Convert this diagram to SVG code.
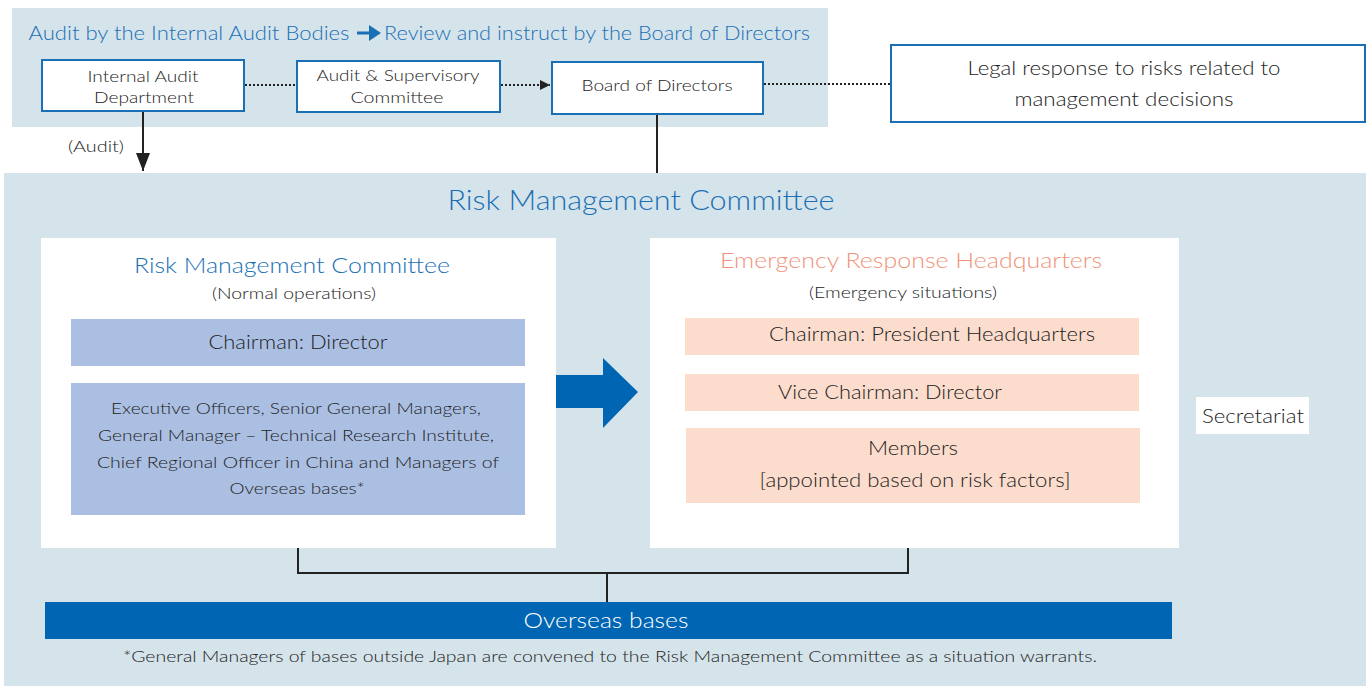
<svg xmlns="http://www.w3.org/2000/svg" width="1369" height="686" viewBox="0 0 1369 686">
  <defs>
    <style>
      text { font-family: Lato, "Open Sans", "Liberation Sans", sans-serif; font-weight: 300; fill: #222; text-anchor: middle; }
      .blue { fill: #1a6fb5; }
      .salmon { fill: #f0937a; }
      .white { fill: #fff; }
      .band { fill: #d5e3eb; }
      .frame { fill: #fff; stroke: #1a6fb5; stroke-width: 2; }
      .panel { fill: #fff; }
      .lav { fill: #abbfe2; }
      .peach { fill: #fcdccc; }
      .dot { stroke: #222; stroke-width: 2; stroke-dasharray: 2 2; fill: none; }
      .solid { stroke: #222; stroke-width: 2; fill: none; }
    </style>
    <marker id="head" viewBox="0 0 10 10" refX="10" refY="5" markerWidth="10" markerHeight="10" markerUnits="userSpaceOnUse" orient="auto">
      <path d="M0,0 L10,5 L0,10 z" fill="#222"/>
    </marker>
    <marker id="headDown" viewBox="0 0 18 14" refX="18" refY="7" markerWidth="18" markerHeight="14" markerUnits="userSpaceOnUse" orient="auto">
      <path d="M0,0 L18,7 L0,14 z" fill="#222"/>
    </marker>
  </defs>

  <!-- background bands -->
  <rect class="band" x="12" y="8" width="816" height="119"/>
  <rect class="band" x="4" y="173" width="1362" height="513"/>

  <!-- top heading -->
  <text class="blue" x="189" y="40" font-size="20" textLength="321" lengthAdjust="spacingAndGlyphs">Audit by the Internal Audit Bodies</text>
  <path d="M357,33 H372" stroke="#1a6fb5" stroke-width="3"/>
  <path d="M369,25 L381,33 L369,41 z" fill="#1a6fb5"/>
  <text class="blue" x="597" y="40" font-size="20" textLength="426" lengthAdjust="spacingAndGlyphs">Review and instruct by the Board of Directors</text>

  <!-- connectors -->
  <g id="connectors">
    <path class="dot" d="M245,85 H296"/>
    <path class="dot" d="M501,85 H550" marker-end="url(#head)"/>
    <path class="dot" d="M764,84 H890"/>
    <path class="solid" d="M143,112 V171" marker-end="url(#headDown)"/>
    <path class="solid" d="M657,115 V173"/>
    <path class="solid" d="M298,548 V573 H908 V548"/>
    <path class="solid" d="M607,573 V602"/>
    <path d="M556,375 H603 V358 L638,392 L603,428 V408 H556 z" fill="#0066b3"/>
  </g>
  <text x="96" y="152" font-size="15" textLength="56" lengthAdjust="spacingAndGlyphs">(Audit)</text>

  <g id="internal-audit">
    <rect class="frame" x="42" y="60" width="202" height="51"/>
    <text x="143" y="82" font-size="16" textLength="111" lengthAdjust="spacingAndGlyphs">Internal Audit</text>
    <text x="144" y="103" font-size="16" textLength="100" lengthAdjust="spacingAndGlyphs">Department</text>
  </g>

  <g id="audit-supervisory">
    <rect class="frame" x="297" y="61" width="203" height="51"/>
    <text x="398" y="81" font-size="16" textLength="163" lengthAdjust="spacingAndGlyphs">Audit &amp; Supervisory</text>
    <text x="397" y="103" font-size="16" textLength="93" lengthAdjust="spacingAndGlyphs">Committee</text>
  </g>

  <g id="board">
    <rect class="frame" x="552" y="62" width="211" height="52"/>
    <text x="657" y="91" font-size="16.5" textLength="151" lengthAdjust="spacingAndGlyphs">Board of Directors</text>
  </g>

  <g id="legal">
    <rect class="frame" x="891" y="45" width="474" height="77"/>
    <text x="1124" y="75" font-size="19" textLength="313" lengthAdjust="spacingAndGlyphs">Legal response to risks related to</text>
    <text x="1124" y="106" font-size="19" textLength="219" lengthAdjust="spacingAndGlyphs">management decisions</text>
  </g>

  <!-- main committee -->
  <text class="blue" x="641" y="210" font-size="27" textLength="387" lengthAdjust="spacingAndGlyphs">Risk Management Committee</text>

  <g id="rmc-normal">
    <rect class="panel" x="41" y="238" width="515" height="310"/>
    <text class="blue" x="292" y="273" font-size="22" textLength="316" lengthAdjust="spacingAndGlyphs">Risk Management Committee</text>
    <text x="294" y="299" font-size="16" textLength="164" lengthAdjust="spacingAndGlyphs">(Normal operations)</text>
    <rect class="lav" x="71" y="319" width="454" height="47"/>
    <text x="298" y="349" font-size="19" textLength="179" lengthAdjust="spacingAndGlyphs">Chairman: Director</text>
    <rect class="lav" x="71" y="383" width="454" height="132"/>
    <text x="296" y="414" font-size="16.5" textLength="370" lengthAdjust="spacingAndGlyphs">Executive Officers, Senior General Managers,</text>
    <text x="296" y="441" font-size="16.5" textLength="396" lengthAdjust="spacingAndGlyphs">General Manager – Technical Research Institute,</text>
    <text x="298" y="468" font-size="16.5" textLength="402" lengthAdjust="spacingAndGlyphs">Chief Regional Officer in China and Managers of</text>
    <text x="297" y="494" font-size="16.5" textLength="135" lengthAdjust="spacingAndGlyphs">Overseas bases*</text>
  </g>

  <g id="emergency-hq">
    <rect class="panel" x="650" y="238" width="529" height="310"/>
    <text class="salmon" x="911" y="268" font-size="22" textLength="382" lengthAdjust="spacingAndGlyphs">Emergency Response Headquarters</text>
    <text x="903" y="298" font-size="16" textLength="188" lengthAdjust="spacingAndGlyphs">(Emergency situations)</text>
    <rect class="peach" x="685" y="318" width="454" height="37"/>
    <text x="932" y="341" font-size="19" textLength="326" lengthAdjust="spacingAndGlyphs">Chairman: President Headquarters</text>
    <rect class="peach" x="685" y="374" width="454" height="37"/>
    <text x="890" y="399" font-size="19" textLength="224" lengthAdjust="spacingAndGlyphs">Vice Chairman: Director</text>
    <rect class="peach" x="686" y="428" width="454" height="75"/>
    <text x="913" y="455" font-size="19" textLength="90" lengthAdjust="spacingAndGlyphs">Members</text>
    <text x="915" y="487" font-size="19" textLength="311" lengthAdjust="spacingAndGlyphs">[appointed based on risk factors]</text>
  </g>

  <g id="secretariat">
    <rect class="panel" x="1196" y="397" width="113" height="37"/>
    <text x="1253" y="423" font-size="19" textLength="102" lengthAdjust="spacingAndGlyphs">Secretariat</text>
  </g>

  <g id="overseas">
    <rect x="45" y="602" width="1127" height="37" fill="#0066b3"/>
    <text class="white" x="606" y="628" font-size="21" textLength="165" lengthAdjust="spacingAndGlyphs">Overseas bases</text>
  </g>

  <text x="610" y="662" font-size="15" textLength="974" lengthAdjust="spacingAndGlyphs">*General Managers of bases outside Japan are convened to the Risk Management Committee as a situation warrants.</text>
</svg>
